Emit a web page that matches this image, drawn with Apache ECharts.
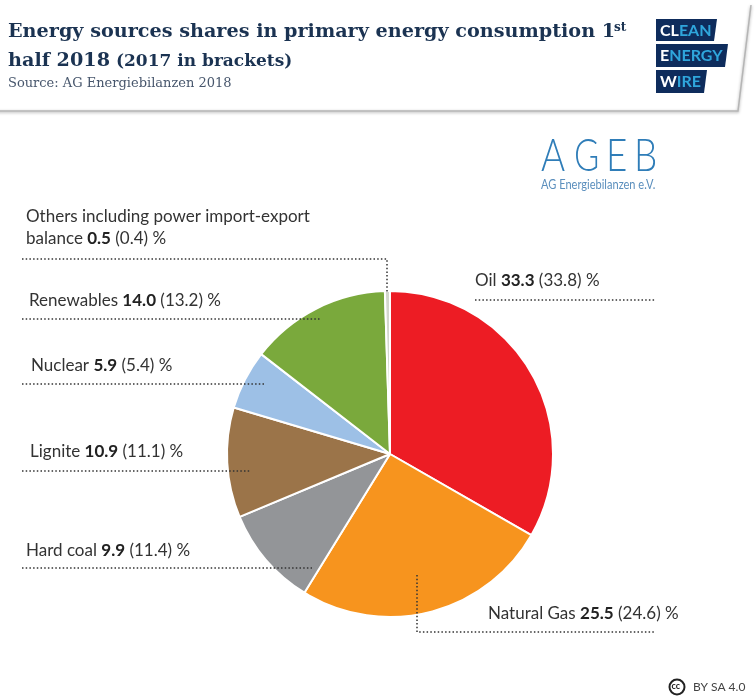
<!DOCTYPE html>
<html>

<head>
    <meta charset="UTF-8">
    <title>Energy sources shares</title>
    <script src="https://cdn.jsdelivr.net/npm/echarts@6/dist/echarts.min.js"></script>
    <style>
        html, body { margin: 0; padding: 0; background: #fff; }
        #chart { width: 756px; height: 700px; }
    </style>
</head>

<body>
    <div id="chart"></div>
    <script>
        const categories = ['Oil', 'Natural Gas', 'Hard coal', 'Lignite', 'Nuclear', 'Renewables', 'Others including power import-export'];
        const share2018 = ['33.3', '25.5', '9.9', '10.9', '5.9', '14.0', '0.5'];
        const share2017 = ['33.8', '24.6', '11.4', '11.1', '5.4', '13.2', '0.4'];
        const colors = ['#ed1c24', '#f7941e', '#939598', '#9b7449', '#9dc0e6', '#7aa93c', '#d3d7cd'];

        const bodyFont = 'Lato, "Open Sans", sans-serif';
        const serifFont = '"DejaVu Serif", serif';

        // label anchor for every category, same order as above
        const labelPos = [[475, 281], [488, 614], [26, 551], [30, 452], [31, 366], [29, 301], [26, 239]];
        // dotted leader lines, same order
        const leaders = [
            [[475, 300], [655, 300]],
            [[417, 575], [417, 632], [655, 632]],
            [[22, 568], [312, 568]],
            [[22, 471], [250, 471]],
            [[22, 384], [266, 384]],
            [[22, 319], [320, 319]],
            [[22, 259], [387, 259], [387, 293]]
        ];

        function labelText(i) {
            let name = i === 6 ? 'balance' : categories[i];
            return '{n|' + name + ' }{b|' + share2018[i] + '}{n| (' + share2017[i] + ') %}';
        }

        function txt(text, x, y, font, fill, extra, scaleX) {
            return {
                type: 'text', z: 20, x: x, y: y, scaleX: scaleX || 1,
                style: Object.assign({ text: text, font: font, fill: fill, textVerticalAlign: 'middle' }, extra || {})
            };
        }

        const labelRich = {
            n: { font: '17px ' + bodyFont, fill: '#333' },
            b: { font: 'bold 17px ' + bodyFont, fill: '#222' }
        };
        const logoRich = {
            w: { font: 'bold 16px ' + bodyFont, fill: '#fff' },
            c: { font: 'bold 16px ' + bodyFont, fill: '#2fa6dc' }
        };

        const graphics = [
            // header panel
            {
                type: 'polygon', z: 5,
                shape: { points: [[-10, -10], [752, -10], [751, 5], [738, 111], [-10, 111]] },
                style: { fill: '#fff', stroke: null }
            },
            {
                type: 'polyline', z: 5,
                shape: { points: [[751, 5], [738, 111], [-10, 111]] },
                style: { fill: null, stroke: '#b5b5b5', lineWidth: 1.5, shadowBlur: 3, shadowColor: 'rgba(0,0,0,0.35)', shadowOffsetY: 1 }
            },
            txt('Energy sources shares in primary energy consumption 1', 8, 32, 'bold 19.2px ' + serifFont, '#1b3352'),
            txt('st', 614, 28, 'bold 12px ' + serifFont, '#1b3352'),
            txt('half 2018', 8, 61, 'bold 19.2px ' + serifFont, '#1b3352'),
            txt('(2017 in brackets)', 116, 62, 'bold 17px ' + serifFont, '#1b3352'),
            txt('Source: AG Energiebilanzen 2018', 8, 84, '13px ' + serifFont, '#47566c'),

            // clean energy wire logo
            { type: 'polygon', z: 6, shape: { points: [[656, 19], [717, 19], [714, 41], [656, 41]] }, style: { fill: '#0e2c5c' } },
            { type: 'polygon', z: 6, shape: { points: [[656, 44], [728, 44], [725, 67], [656, 67]] }, style: { fill: '#0e2c5c' } },
            { type: 'polygon', z: 6, shape: { points: [[656, 70], [707, 70], [704, 93], [656, 93]] }, style: { fill: '#0e2c5c' } },
            txt('{w|CL}{c|EAN}', 660, 31, '', '', { rich: logoRich }),
            txt('{w|E}{c|NERGY}', 660, 56, '', '', { rich: logoRich }),
            txt('{w|W}{c|IRE}', 660, 82, '', '', { rich: logoRich }),

            // AGEB logo
            txt('A', 541, 156, '300 46px ' + bodyFont, '#2f7db8', null, 0.8),
            txt('G', 574, 156, '300 46px ' + bodyFont, '#2f7db8', null, 0.75),
            txt('E', 606, 156, '300 46px ' + bodyFont, '#2f7db8', null, 0.8),
            txt('B', 634, 156, '300 46px ' + bodyFont, '#2f7db8', null, 0.8),
            txt('AG Energiebilanzen e.V.', 541, 185, '13px ' + bodyFont, '#5b8fbd', null, 0.85),

            // licence mark
            { type: 'circle', z: 20, shape: { cx: 677, cy: 687, r: 7.5 }, style: { fill: '#fff', stroke: '#222', lineWidth: 2 } },
            txt('cc', 671.5, 686.5, 'bold 9px ' + bodyFont, '#222'),
            txt('BY SA 4.0', 693, 687, '12px ' + bodyFont, '#444'),

            // the wrapped first line of the "Others" label
            txt('Others including power import-export', 26, 217, '17px ' + bodyFont, '#333')
        ];

        categories.forEach(function (name, i) {
            graphics.push({
                type: 'polyline', z: 15,
                shape: { points: leaders[i] },
                style: { fill: null, stroke: '#333', lineWidth: 1.5, lineDash: [1.5, 2.2] }
            });
            graphics.push(txt(labelText(i), labelPos[i][0], labelPos[i][1], '', '', { rich: labelRich }));
        });

        const chart = echarts.init(document.getElementById('chart'), null, { renderer: 'canvas' });
        chart.setOption({
            animation: false,
            backgroundColor: '#fff',
            series: [{
                type: 'pie',
                center: [390, 454],
                radius: [0, 163],
                startAngle: 90,
                clockwise: true,
                silent: true,
                label: { show: false },
                labelLine: { show: false },
                itemStyle: { borderColor: '#fff', borderWidth: 2 },
                data: categories.map(function (name, i) {
                    return { name: name, value: parseFloat(share2018[i]), itemStyle: { color: colors[i] } };
                })
            }],
            graphic: { elements: graphics }
        });
    </script>
</body>

</html>
